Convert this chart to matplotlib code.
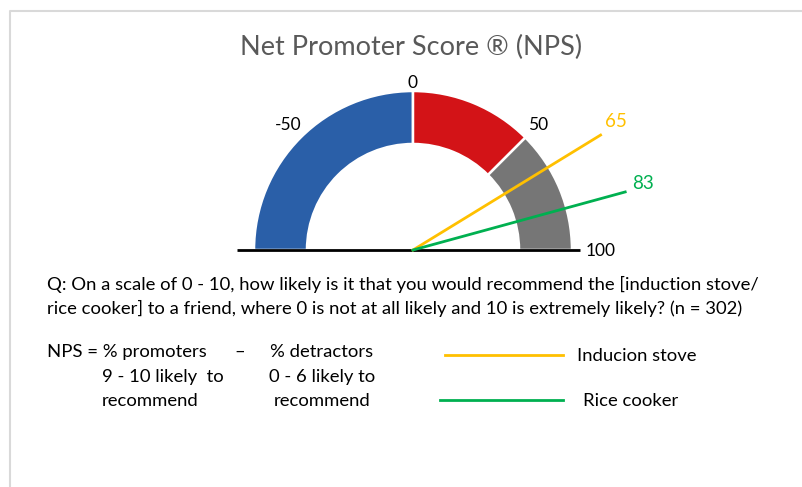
import matplotlib
matplotlib.use("Agg")
import matplotlib.pyplot as plt
from matplotlib.patches import Wedge
import numpy as np

# gauge data
band_edges = [-100, 0, 50, 100]
band_colors = ["#2a5fa8", "#d31317", "#767676"]
tick_values = [-50, 0, 50]
needle_names = ["Inducion stove", "Rice cooker"]
needle_values = [65, 83]
needle_colors = ["#ffc000", "#00b050"]

title = "Net Promoter Score \u00ae (NPS)"
q_lines = ["Q: On a scale of 0 - 10, how likely is it that you would recommend the [induction stove/",
           "rice cooker] to a friend, where 0 is not at all likely and 10 is extremely likely? (n = 302)"]

W, H = 802, 487
fig = plt.figure(figsize=(W / 100, H / 100), dpi=100)
ax = fig.add_axes([0, 0, 1, 1])
ax.set_xlim(0, W)
ax.set_ylim(0, H)
ax.set_aspect("equal")
ax.axis("off")
renderer = fig.canvas.get_renderer()

font = "Lato"

# body text is a condensed font in the original, so fit the size to the line width
probe = ax.text(0, 0, q_lines[0], fontsize=12, family=font)
w12 = probe.get_window_extent(renderer).width
probe.remove()
fs = 12 * 708 / w12

cx, cy = 413, H - 250
r_out, width = 159, 53


def ang(v):
    # -100 -> 180 deg, 0 -> 90 deg, 100 -> 0 deg
    return 90 - v * 0.9


# frame
ax.plot([10, 10, W], [0, H - 11, H - 11], color="#d9d9d9", lw=1.5)

ax.text(411, H - 47, title, ha="center", va="center", fontsize=19.5,
        color="#595959", family=font)

for lo, hi, c in zip(band_edges[:-1], band_edges[1:], band_colors):
    ax.add_patch(Wedge((cx, cy), r_out, ang(hi), ang(lo), width=width,
                       facecolor=c, edgecolor="white", lw=1.8))

ax.plot([237, 580], [cy, cy], color="black", lw=2, solid_capstyle="butt")

for v in tick_values:
    a = np.radians(ang(v))
    r = 167 if v == 0 else 177
    ax.text(cx + r * np.cos(a), cy + r * np.sin(a), str(v), ha="center",
            va="center", fontsize=12.5, family=font)
ax.text(586, cy - 1, "100", ha="left", va="center", fontsize=12.5, family=font)

for v, c in zip(needle_values, needle_colors):
    a = np.radians(ang(v))
    L = 220
    ax.plot([cx, cx + L * np.cos(a)], [cy, cy + L * np.sin(a)], color=c, lw=2)
    ax.text(cx + (L + 18) * np.cos(a), cy + (L + 18) * np.sin(a) + 4, str(v),
            ha="center", va="center", fontsize=13.5, color=c, family=font)

for i, line in enumerate(q_lines):
    ax.text(47, H - 284 - 24 * i, line, ha="left", va="center", fontsize=fs, family=font)

ax.text(47, H - 352, "NPS = % promoters", ha="left", va="center", fontsize=fs, family=font)
ax.text(240, H - 352, "\u2013", ha="center", va="center", fontsize=fs, family=font)
ax.text(322, H - 352, "% detractors", ha="center", va="center", fontsize=fs, family=font)
ax.text(102, H - 377, "9 - 10 likely  to", ha="left", va="center", fontsize=fs, family=font)
ax.text(102, H - 401, "recommend", ha="left", va="center", fontsize=fs, family=font)
ax.text(322, H - 377, "0 - 6 likely to", ha="center", va="center", fontsize=fs, family=font)
ax.text(322, H - 401, "recommend", ha="center", va="center", fontsize=fs, family=font)

# manual legend
for i, (name, c) in enumerate(zip(needle_names, needle_colors)):
    y = H - 355 - i * 45
    ax.plot([445 - 5 * i, 563], [y, y], color=c, lw=2)
    ax.text(577 + 6 * i, y - 1, name, ha="left", va="center", fontsize=fs, family=font)

fig.savefig("out.png", dpi=100)
